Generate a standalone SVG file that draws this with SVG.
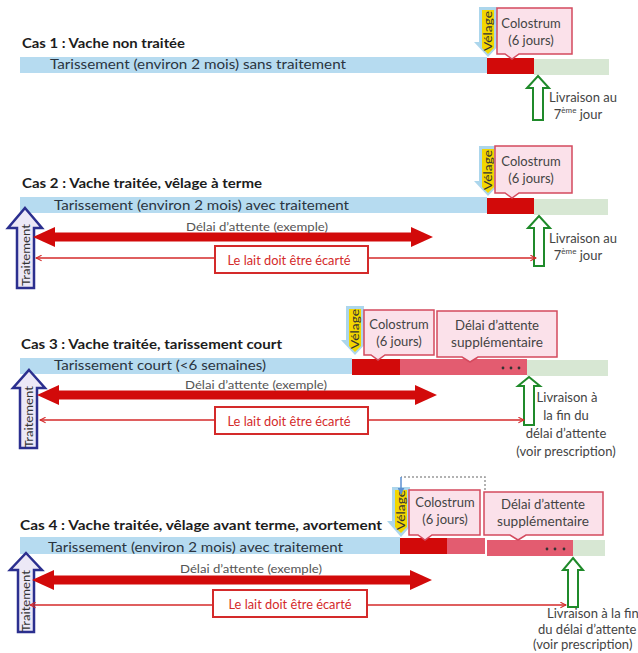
<svg xmlns="http://www.w3.org/2000/svg" width="638" height="653" viewBox="0 0 638 653">
<style>
text{font-family:Lato,"Liberation Sans",sans-serif}
.title{font-size:14px;font-weight:bold;fill:#1c1c1c}
.bartxt{font-size:14px;fill:#2a3440}
.blue{fill:#b6dbf0}
.red{fill:#d20a0a}
.pink{fill:#e35c70}
.green{fill:#d7e7d3}
.call{fill:#fbe1ea;stroke:#d44a5e;stroke-width:1.5}
.calltxt{font-size:13px;fill:#444;text-anchor:middle}
.vblue{fill:#acd6ec}
.vyel{fill:#f2d600}
.vtxt{font-size:12px;fill:#333;text-anchor:middle}
.trt{fill:#ece8f6;stroke:#2b2f8f;stroke-width:2.5}
.trttxt{font-size:12px;fill:#333;text-anchor:middle}
.liv{fill:#fff;stroke:#1f8a2a;stroke-width:2}
.livtxt{font-size:13px;fill:#444}
.big{fill:#d20a0a}
.thin{stroke:#d42a2a;stroke-width:1.5;fill:none}
.lbl{font-size:12px;fill:#555;text-anchor:middle}
.box{fill:#fff;stroke:#d42a2a;stroke-width:2}
.boxtxt{font-size:13px;fill:#d42a2a;text-anchor:middle}
.dot{fill:#333}
</style>
<defs>
<marker id="chev" viewBox="0 0 10 10" refX="9" refY="5" markerWidth="7" markerHeight="7" orient="auto-start-reverse" markerUnits="userSpaceOnUse">
<path d="M1,1 L9,5 L1,9" fill="none" stroke="#d42a2a" stroke-width="1.5"/>
</marker>
<marker id="barr" viewBox="0 0 10 10" refX="9" refY="5" markerWidth="7" markerHeight="7" orient="auto" markerUnits="userSpaceOnUse">
<path d="M0,0 L10,5 L0,10 Z" fill="#5b8fd0"/>
</marker>
</defs>

<!-- Case 1 -->
<g id="cas1">
<text class="title" x="22" y="48" textLength="163" lengthAdjust="spacingAndGlyphs">Cas 1 : Vache non traitée</text>
<rect class="blue" x="20" y="57" width="467" height="16"/>
<text class="bartxt" x="50" y="69" textLength="296" lengthAdjust="spacingAndGlyphs">Tarissement (environ 2 mois) sans traitement</text>
<rect class="red" x="487" y="58" width="47" height="16"/>
<rect class="green" x="534" y="59" width="75" height="16"/>
</g>
<g id="velage1">
<path class="vblue" d="M479,7 H497 V42 H502 L488,57 L474,42 H479 Z"/>
<path class="vyel" d="M482,10 H494 V48 L488,54 L482,48 Z"/>
<text class="vtxt" transform="translate(492,31) rotate(-90)" textLength="40" lengthAdjust="spacingAndGlyphs">Vélage</text>
</g>
<g id="colostrum1">
<path class="call" d="M497,8 H572 V54 H519 L512,59 L505,54 H497 Z"/>
<text class="calltxt" x="531" y="28">Colostrum</text>
<text class="calltxt" x="531" y="45">(6 jours)</text>
</g>
<g id="livraison1">
<path class="liv" d="M538,76 L549,88 L543,88 L543,120 L533,120 L533,88 L527,88 Z"/>
<text class="livtxt" x="549" y="102" textLength="68" lengthAdjust="spacingAndGlyphs">Livraison au</text>
<text class="livtxt" x="578" y="119" text-anchor="middle">7<tspan font-size="8" dy="-6">ème</tspan><tspan dy="6"> jour</tspan></text>
</g>

<!-- Case 2 -->
<g id="cas2">
<text class="title" x="22" y="188" textLength="240" lengthAdjust="spacingAndGlyphs">Cas 2 : Vache traitée, vêlage à terme</text>
<rect class="blue" x="20" y="197" width="467" height="16"/>
<text class="bartxt" x="54" y="210" textLength="295" lengthAdjust="spacingAndGlyphs">Tarissement (environ 2 mois) avec traitement</text>
<rect class="red" x="487" y="198" width="47" height="16"/>
<rect class="green" x="534" y="199" width="74" height="16"/>
</g>
<g id="velage2">
<path class="vblue" d="M479,146 H497 V181 H502 L488,196 L474,181 H479 Z"/>
<path class="vyel" d="M482,149 H494 V187 L488,193 L482,187 Z"/>
<text class="vtxt" transform="translate(492,170) rotate(-90)" textLength="40" lengthAdjust="spacingAndGlyphs">Vélage</text>
</g>
<g id="colostrum2">
<path class="call" d="M495,146 H572 V193 H519 L512,198 L505,193 H495 Z"/>
<text class="calltxt" x="531" y="166">Colostrum</text>
<text class="calltxt" x="531" y="183">(6 jours)</text>
</g>
<g id="traitement2">
<path class="trt" d="M25,208 L42,228 L34,228 L34,288 L17,288 L17,228 L8,228 Z"/>
<text class="trttxt" transform="translate(30,255) rotate(-90)" textLength="62" lengthAdjust="spacingAndGlyphs">Traitement</text>
</g>
<g id="livraison2">
<path class="liv" d="M539,216 L550,228 L544,228 L544,266 L534,266 L534,228 L528,228 Z"/>
<text class="livtxt" x="549" y="243" textLength="68" lengthAdjust="spacingAndGlyphs">Livraison au</text>
<text class="livtxt" x="578" y="260" text-anchor="middle">7<tspan font-size="8" dy="-6">ème</tspan><tspan dy="6"> jour</tspan></text>
</g>

<!-- Case 3 -->
<g id="cas3">
<text class="title" x="21" y="349" textLength="261" lengthAdjust="spacingAndGlyphs">Cas 3 : Vache traitée, tarissement court</text>
<rect class="blue" x="20" y="358" width="332" height="16"/>
<text class="bartxt" x="54" y="370" textLength="212" lengthAdjust="spacingAndGlyphs">Tarissement court (&lt;6 semaines)</text>
<rect class="red" x="352" y="359" width="48" height="16"/>
<rect class="pink" x="400" y="359" width="127" height="16"/>
<rect class="green" x="527" y="360" width="81" height="16"/>
<circle class="dot" cx="503" cy="368" r="1.4"/>
<circle class="dot" cx="511" cy="368" r="1.4"/>
<circle class="dot" cx="519" cy="368" r="1.4"/>
</g>
<g id="velage3">
<path class="vblue" d="M346,306 H364 V340 H369 L355,355 L341,340 H346 Z"/>
<path class="vyel" d="M349,309 H361 V346 L355,352 L349,346 Z"/>
<text class="vtxt" transform="translate(359,329) rotate(-90)" textLength="40" lengthAdjust="spacingAndGlyphs">Vélage</text>
</g>
<g id="colostrum3">
<path class="call" d="M364,310 H434 V355 H385 L378,360 L371,355 H364 Z"/>
<text class="calltxt" x="399" y="329">Colostrum</text>
<text class="calltxt" x="399" y="346">(6 jours)</text>
</g>
<g id="delai3">
<path class="call" d="M437,311 H557 V357 H478 L470,362 L462,357 H437 Z"/>
<text class="calltxt" x="497" y="330" textLength="84" lengthAdjust="spacingAndGlyphs">Délai d’attente</text>
<text class="calltxt" x="497" y="347" textLength="92" lengthAdjust="spacingAndGlyphs">supplémentaire</text>
</g>
<g id="traitement3">
<path class="trt" d="M29,370 L45,388 L37,388 L37,448 L20,448 L20,388 L13,388 Z"/>
<text class="trttxt" transform="translate(33,417) rotate(-90)" textLength="62" lengthAdjust="spacingAndGlyphs">Traitement</text>
</g>
<g id="livraison3">
<path class="liv" d="M529,377 L540,386 L534,386 L534,425 L524,425 L524,386 L518,386 Z"/>
<text class="livtxt" x="567" y="402" text-anchor="middle">Livraison à</text>
<text class="livtxt" x="566" y="420" text-anchor="middle">la fin du</text>
<text class="livtxt" x="566" y="438" text-anchor="middle">délai d’attente</text>
<text class="livtxt" x="566" y="456" text-anchor="middle">(voir prescription)</text>
</g>

<!-- Case 4 -->
<g id="cas4">
<text class="title" x="20" y="530" textLength="362" lengthAdjust="spacingAndGlyphs">Cas 4 : Vache traitée, vêlage avant terme,  avortement</text>
<rect class="blue" x="20" y="537" width="380" height="17"/>
<text class="bartxt" x="48" y="552" textLength="295" lengthAdjust="spacingAndGlyphs">Tarissement (environ 2 mois) avec traitement</text>
<rect class="red" x="400" y="538" width="47" height="16"/>
<rect class="pink" x="447" y="538" width="38" height="16"/>
<rect class="pink" x="487" y="540" width="86" height="16"/>
<rect class="green" x="573" y="540" width="32" height="16"/>
<circle class="dot" cx="547" cy="549" r="1.4"/>
<circle class="dot" cx="555" cy="549" r="1.4"/>
<circle class="dot" cx="564" cy="549" r="1.4"/>
</g>
<g id="velage4">
<path class="vblue" d="M392,487 H410 V521 H415 L401,537 L387,521 H392 Z"/>
<path class="vyel" d="M395,490 H407 V527 L401,533 L395,527 Z"/>
<text class="vtxt" transform="translate(405,510) rotate(-90)" textLength="40" lengthAdjust="spacingAndGlyphs">Vélage</text>
</g>
<g id="colostrum4">
<path class="call" d="M409,490 H480 V535 H432 L425,540 L418,535 H409 Z"/>
<text class="calltxt" x="445" y="507">Colostrum</text>
<text class="calltxt" x="445" y="524">(6 jours)</text>
</g>
<g id="delai4">
<path class="call" d="M484,492 H603 V535 H526 L518,540 L510,535 H484 Z"/>
<text class="calltxt" x="543" y="509" textLength="84" lengthAdjust="spacingAndGlyphs">Délai d’attente</text>
<text class="calltxt" x="543" y="526" textLength="92" lengthAdjust="spacingAndGlyphs">supplémentaire</text>
</g>
<g id="traitement4">
<path class="trt" d="M26,553 L42,570 L34,570 L34,632 L18,632 L18,570 L10,570 Z"/>
<text class="trttxt" transform="translate(30,601) rotate(-90)" textLength="62" lengthAdjust="spacingAndGlyphs">Traitement</text>
</g>
<g id="livraison4">
<path class="liv" d="M573,558 L583,570 L578,570 L578,607 L568,607 L568,570 L563,570 Z"/>
<text class="livtxt" x="547" y="618">Livraison à la fin</text>
<text class="livtxt" x="538" y="634">du délai d’attente</text>
<text class="livtxt" x="533" y="649">(voir prescription)</text>
</g>

<!-- Connectors -->
<g id="connectors">
<path class="big" d="M33,237 L55,227 L55,232.5 L411,232.5 L411,227 L433,237 L411,247 L411,241.5 L55,241.5 L55,247 Z"/>
<text class="lbl" x="257" y="231" textLength="142" lengthAdjust="spacingAndGlyphs">Délai d’attente (exemple)</text>
<line class="thin" x1="36" y1="258" x2="536" y2="258" marker-start="url(#chev)" marker-end="url(#chev)"/>
<rect class="box" x="215" y="246" width="153" height="27"/>
<text class="boxtxt" x="289" y="265" textLength="123" lengthAdjust="spacingAndGlyphs">Le lait doit être écarté</text>

<path class="big" d="M37,395 L59,385 L59,390.5 L415,390.5 L415,385 L437,395 L415,405 L415,399.5 L59,399.5 L59,405 Z"/>
<text class="lbl" x="256" y="389" textLength="142" lengthAdjust="spacingAndGlyphs">Délai d’attente (exemple)</text>
<line class="thin" x1="40" y1="420" x2="524" y2="420" marker-start="url(#chev)" marker-end="url(#chev)"/>
<rect class="box" x="215" y="407" width="153" height="27"/>
<text class="boxtxt" x="289" y="426" textLength="123" lengthAdjust="spacingAndGlyphs">Le lait doit être écarté</text>

<path class="big" d="M32,580 L54,570 L54,575.5 L410,575.5 L410,570 L432,580 L410,590 L410,584.5 L54,584.5 L54,590 Z"/>
<text class="lbl" x="251" y="573" textLength="142" lengthAdjust="spacingAndGlyphs">Délai d’attente (exemple)</text>
<line class="thin" x1="30" y1="605" x2="566" y2="605" marker-start="url(#chev)" marker-end="url(#chev)"/>
<rect class="box" x="213" y="590" width="154" height="27"/>
<text class="boxtxt" x="290" y="609" textLength="123" lengthAdjust="spacingAndGlyphs">Le lait doit être écarté</text>

<path d="M485,490 V477 H401" fill="none" stroke="#999" stroke-width="1.5" stroke-dasharray="2 2"/>
<line x1="401" y1="477" x2="401" y2="494" stroke="#5b8fd0" stroke-width="1.5" marker-end="url(#barr)"/>
</g>
</svg>
